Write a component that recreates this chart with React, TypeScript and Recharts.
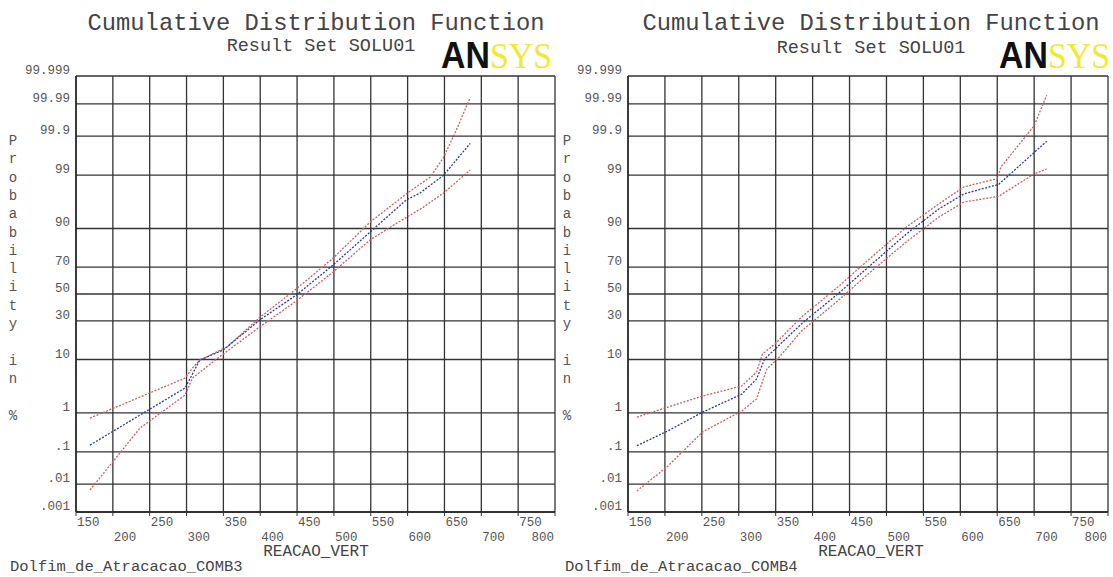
import React from "react"
import { LineChart, Line, XAxis, YAxis, CartesianGrid } from "recharts"

const xTicks = [150, 200, 250, 300, 350, 400, 450, 500, 550, 600, 650, 700, 750, 800]
const probLabels = ["99.999", "99.99", "99.9", "99", "90", "70", "50", "30", "10", "1", ".1", ".01", ".001"]
const probValues = [99.999, 99.99, 99.9, 99, 90, 70, 50, 30, 10, 1, 0.1, 0.01, 0.001]

// COMB3 (left)
const comb3MeanX = [169, 298, 318, 350, 399, 449, 499, 549, 598, 617, 649, 685]
const comb3MeanP = [0.156, 3.3, 9.8, 13.7, 30.5, 49.2, 71.5, 88.7, 96.7, 97.6, 99.0, 99.84]
const comb3UpperX = [169, 298, 309, 318, 355, 400, 449, 499, 549, 600, 631, 649, 668, 685]
const comb3UpperP = [0.76, 5.0, 7.6, 9.8, 15, 32.6, 53.9, 75.9, 92.0, 97.6, 98.9, 99.63, 99.946, 99.994]
const comb3LowerX = [169, 196, 237, 298, 308, 339, 399, 449, 499, 549, 586, 621, 649, 685]
const comb3LowerP = [0.0063, 0.04, 0.44, 2.4, 5.0, 9.8, 25.9, 44.6, 66.7, 85.5, 91.8, 95.5, 97.6, 99.24]

// COMB4 (right)
const comb4MeanX = [162, 204, 251, 304, 324, 335, 349, 385, 434, 480, 527, 571, 605, 652, 717]
const comb4MeanP = [0.15, 0.37, 1.04, 2.5, 4.8, 10.2, 14, 28, 50, 72, 88, 95.2, 97.5, 98.4, 99.86]
const comb4UpperX = [162, 204, 251, 304, 324, 332, 349, 385, 434, 480, 527, 571, 605, 650, 655, 700, 717]
const comb4UpperP = [0.8, 1.35, 2.3, 3.6, 6.3, 12, 16.4, 32.6, 55.4, 76.5, 90.5, 96.1, 98.2, 98.8, 99.35, 99.95, 99.995]
const comb4LowerX = [162, 204, 251, 304, 324, 338, 355, 385, 434, 480, 527, 571, 605, 652, 700, 717]
const comb4LowerP = [0.0058, 0.038, 0.35, 1.1, 2.0, 7.1, 10.9, 23.5, 44.6, 67.4, 84.6, 93.4, 96.4, 97.2, 99.06, 99.28]

// inverse normal CDF (Acklam) for the normal probability scale
function probit(pct: number) {
  const p = pct / 100
  const a = [-39.69683028665376, 220.9460984245205, -275.9285104469687, 138.357751867269, -30.66479806614716, 2.506628277459239]
  const b = [-54.47609879822406, 161.5858368580409, -155.6989798598866, 66.80131188771972, -13.28068155288572]
  const c = [-0.007784894002430293, -0.3223964580411365, -2.400758277161838, -2.549671834972401, 4.374664141464968, 2.938163982698783]
  const d = [0.007784695709041462, 0.3224671290700398, 2.445134137142996, 3.754408661907416]
  const tail = (q: number) =>
    (((((c[0] * q + c[1]) * q + c[2]) * q + c[3]) * q + c[4]) * q + c[5]) /
    ((((d[0] * q + d[1]) * q + d[2]) * q + d[3]) * q + 1)
  if (p < 0.02425) return tail(Math.sqrt(-2 * Math.log(p)))
  if (p > 1 - 0.02425) return -tail(Math.sqrt(-2 * Math.log(1 - p)))
  const q = p - 0.5
  const r = q * q
  return ((((((a[0] * r + a[1]) * r + a[2]) * r + a[3]) * r + a[4]) * r + a[5]) * q) /
    (((((b[0] * r + b[1]) * r + b[2]) * r + b[3]) * r + b[4]) * r + 1)
}

const toPoints = (xs: number[], ps: number[]) => xs.map((x, i) => ({ x, z: probit(ps[i]) }))

const yTicks = probValues.map(probit)
const zMin = probit(0.001)
const zMax = probit(99.999)

const MONO = "'Liberation Mono', 'DejaVu Sans Mono', monospace"
const RED = "#cc5e62"
const BLUE = "#2a3a9a"

function XTick(props: any) {
  const { x, y, payload } = props
  const idx = xTicks.indexOf(payload.value)
  const last = idx === xTicks.length - 1
  return (
    <text
      x={last ? x - 1 : x + 1}
      y={y + (idx % 2 === 0 ? 8 : 23)}
      textAnchor={last ? "end" : "start"}
      fontFamily={MONO}
      fontSize={12.5}
      fill="#555"
    >
      {payload.value}
    </text>
  )
}

function YTick(props: any) {
  const { x, y, payload } = props
  let idx = 0
  yTicks.forEach((t, i) => {
    if (Math.abs(t - payload.value) < Math.abs(yTicks[idx] - payload.value)) idx = i
  })
  return (
    <text x={x + 2} y={y - 2} textAnchor="end" fontFamily={MONO} fontSize={12.5} fill="#555">
      {probLabels[idx]}
    </text>
  )
}

function CdfPanel({ mean, upper, lower, width, left, right }: any) {
  return (
    <LineChart width={width} height={577} margin={{ top: 76, right, left: left - 60, bottom: 25 }}>
      <CartesianGrid stroke="#333" strokeWidth={1.3} />
      <XAxis
        type="number"
        dataKey="x"
        domain={[150, 800]}
        ticks={xTicks}
        interval={0}
        height={40}
        allowDataOverflow
        axisLine={{ stroke: "#222", strokeWidth: 1.4 }}
        tickLine={{ stroke: "#333" }}
        tickSize={4}
        tick={XTick}
      />
      <YAxis
        type="number"
        dataKey="z"
        domain={[zMin, zMax]}
        ticks={yTicks}
        interval={0}
        width={60}
        allowDataOverflow
        axisLine={{ stroke: "#222", strokeWidth: 1.4 }}
        tickLine={false}
        tick={YTick}
      />
      <Line data={lower} dataKey="z" stroke={RED} strokeWidth={1.3} strokeDasharray="2 1.5" dot={false} isAnimationActive={false} />
      <Line data={upper} dataKey="z" stroke={RED} strokeWidth={1.3} strokeDasharray="2 1.5" dot={false} isAnimationActive={false} />
      <Line data={mean} dataKey="z" stroke={BLUE} strokeWidth={1.3} strokeDasharray="2 1.5" dot={false} isAnimationActive={false} />
    </LineChart>
  )
}

const yLabel = "Probability in %".split("")

function PanelText({ cx, logoX, labelX, footer, subX, subY }: any) {
  return (
    <g>
      <text x={cx} y={30} textAnchor="middle" fontFamily={MONO} fontSize={23.8} fill="#444">
        Cumulative Distribution Function
      </text>
      <text x={subX} y={subY} textAnchor="middle" fontFamily={MONO} fontSize={18.5} fill="#444">
        Result Set SOLU01
      </text>
      <text x={logoX} y={68} fontSize={36} textLength={111} lengthAdjust="spacingAndGlyphs">
        <tspan fontFamily="'Liberation Sans', Arial, sans-serif" fontWeight={900} fill="#111">AN</tspan>
        <tspan fontFamily="'Liberation Serif', serif" fill="#f2e830">SYS</tspan>
      </text>
      {yLabel.map((ch, i) => (
        <text key={i} x={labelX} y={145 + i * 18.3} textAnchor="middle" fontFamily={MONO} fontSize={14} fill="#555">
          {ch}
        </text>
      ))}
      <text x={cx} y={556} textAnchor="middle" fontFamily={MONO} fontSize={16} fill="#444">
        REACAO_VERT
      </text>
      <text x={footer.x} y={571} fontFamily={MONO} fontSize={15.5} fill="#444">
        {footer.text}
      </text>
    </g>
  )
}

export default function App() {
  return (
    <div style={{ position: "absolute", left: 0, top: 0, width: 1113, height: 577, background: "#fff", overflow: "hidden" }}>
      <div style={{ position: "absolute", left: 0, top: 0 }}>
        <CdfPanel
          width={556}
          left={76}
          right={1}
          mean={toPoints(comb3MeanX, comb3MeanP)}
          upper={toPoints(comb3UpperX, comb3UpperP)}
          lower={toPoints(comb3LowerX, comb3LowerP)}
        />
      </div>
      <div style={{ position: "absolute", left: 556, top: 0 }}>
        <CdfPanel
          width={557}
          left={72}
          right={5}
          mean={toPoints(comb4MeanX, comb4MeanP)}
          upper={toPoints(comb4UpperX, comb4UpperP)}
          lower={toPoints(comb4LowerX, comb4LowerP)}
        />
      </div>
      <svg width={1113} height={577} style={{ position: "absolute", left: 0, top: 0, pointerEvents: "none" }}>
        <PanelText cx={316} subX={321} subY={51} logoX={441} labelX={13} footer={{ x: 10, text: "Dolfim_de_Atracacao_COMB3" }} />
        <PanelText cx={871} subX={871} subY={53} logoX={999} labelX={567} footer={{ x: 565, text: "Dolfim_de_Atracacao_COMB4" }} />
      </svg>
    </div>
  )
}
